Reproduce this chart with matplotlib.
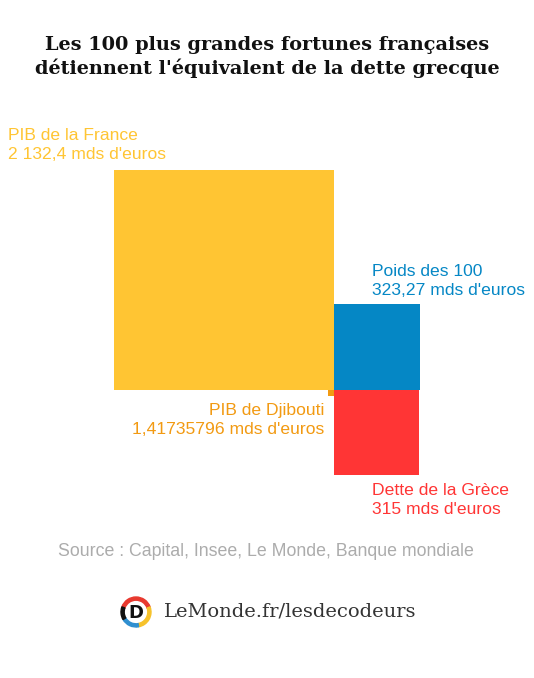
import numpy as np
import matplotlib.pyplot as plt
from matplotlib.patches import Rectangle, Circle, Wedge

# values in billions of euros
labels = ["PIB de la France", "Poids des 100", "Dette de la Grèce", "PIB de Djibouti"]
values = [2132.4, 323.27, 315.0, 1.41735796]
value_txt = ["2 132,4 mds d'euros", "323,27 mds d'euros", "315 mds d'euros", "1,41735796 mds d'euros"]
colors = ["#FFC533", "#0587C5", "#FF3535", "#F29A12"]

W, H = 534, 678
fig = plt.figure(figsize=(W / 100, H / 100), dpi=100)
ax = fig.add_axes([0, 0, 1, 1])
ax.set_xlim(0, W)
ax.set_ylim(H, 0)
ax.axis("off")

# squares: area proportional to value, all meeting at one corner
scale = 220 / np.sqrt(values[0])
sides = [scale * np.sqrt(v) for v in values]
cx, cy = 334, 390

ax.add_patch(Rectangle((cx - sides[0], cy - sides[0]), sides[0], sides[0], color=colors[0], lw=0))
ax.add_patch(Rectangle((cx, cy - sides[1]), sides[1], sides[1], color=colors[1], lw=0))
ax.add_patch(Rectangle((cx, cy), sides[2], sides[2], color=colors[2], lw=0))
ax.add_patch(Rectangle((cx - sides[3], cy), sides[3], sides[3], color=colors[3], lw=0))

# title
ax.text(267, 57, "Les 100 plus grandes fortunes françaises\ndétiennent l'équivalent de la dette grecque",
        ha="center", va="center", fontsize=13.9, fontweight="bold",
        family="DejaVu Serif", linespacing=1.3, color="#111111")

lab_kw = dict(fontsize=12.6, family="Liberation Sans", linespacing=1.3)
ax.text(8, 128, labels[0] + "\n" + value_txt[0], ha="left", va="top", color=colors[0], **lab_kw)
ax.text(372, 264, labels[1] + "\n" + value_txt[1], ha="left", va="top", color=colors[1], **lab_kw)
ax.text(372, 483, labels[2] + "\n" + value_txt[2], ha="left", va="top", color=colors[2], **lab_kw)
ax.text(324, 403, labels[3] + "\n" + value_txt[3], ha="right", va="top", color=colors[3],
        multialignment="right", **lab_kw)

ax.text(266, 551, "Source : Capital, Insee, Le Monde, Banque mondiale", ha="center", va="center",
        fontsize=12.8, family="Liberation Sans", color="#ACACAC")

# logo
lx, ly, r = 136, 612, 15
ax.add_patch(Wedge((lx, ly), r, 200, 340, width=3.2, color="#E8392F"))
ax.add_patch(Wedge((lx, ly), r, 340, 80, width=3.2, color="#F6C22B"))
ax.add_patch(Wedge((lx, ly), r, 80, 150, width=3.2, color="#2F8FD0"))
ax.add_patch(Wedge((lx, ly), r, 150, 200, width=3.2, color="#111111"))
ax.text(lx, ly + 1, "D", ha="center", va="center", fontsize=13, fontweight="bold",
        family="DejaVu Sans", color="#111111")
ax.text(164, 612, "LeMonde.fr/lesdecodeurs", ha="left", va="center", fontsize=14,
        family="DejaVu Serif", color="#333333")

fig.savefig("out.png", dpi=100, facecolor="white")
